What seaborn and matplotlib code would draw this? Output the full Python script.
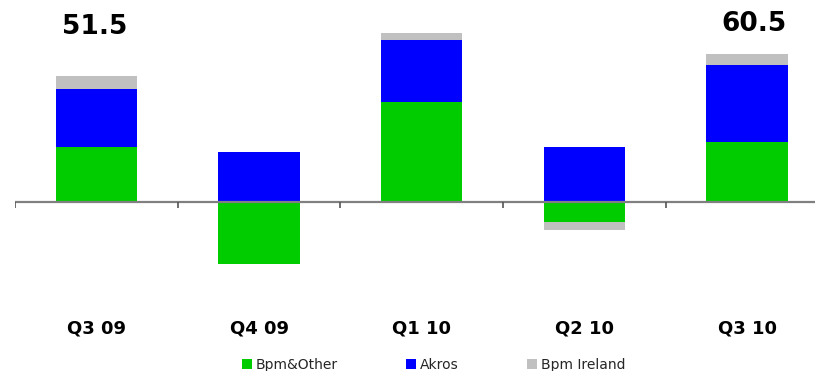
import numpy as np
import pandas as pd
import matplotlib
matplotlib.use("Agg")
import matplotlib.pyplot as plt
import seaborn as sns
from matplotlib.patches import Patch

# Quarterly contribution by business line
quarters = ["Q3 09", "Q4 09", "Q1 10", "Q2 10", "Q3 10"]
bpm_other = [22.4, -25.4, 41.0, -8.3, 24.5]
akros = [23.8, 20.2, 25.3, 22.4, 31.5]
bpm_ireland = [5.3, 0.2, 2.9, -3.3, 4.5]
labelled_quarters = ["Q3 09", "Q3 10"]

series_names = ["Bpm&Other", "Akros", "Bpm Ireland"]
series_values = [bpm_other, akros, bpm_ireland]
series_colors = ["#00CC00", "#0000FF", "#C0C0C0"]

sns.set_theme(style="white")
plt.rcParams["font.family"] = ["DejaVu Sans"]

fig = plt.figure(figsize=(8.15, 3.71), dpi=100)
ax = fig.add_axes([15 / 815, (371 - 310) / 371, 813.5 / 815, 310 / 371])

# Cumulative ends of the stacks, positives upward and negatives downward
vals = np.array(series_values, dtype=float)
pos_cum = np.cumsum(np.clip(vals, 0, None), axis=0)
neg_cum = np.cumsum(np.clip(vals, None, 0), axis=0)

# Draw from the outermost layer inwards so inner layers cover the overlap
for i in reversed(range(len(series_names))):
    for cum in (pos_cum[i], neg_cum[i]):
        df = pd.DataFrame({"quarter": quarters, "value": cum})
        sns.barplot(data=df, x="quarter", y="value", order=quarters,
                    color=series_colors[i], saturation=1, width=0.5,
                    edgecolor="none", linewidth=0, errorbar=None, ax=ax)

ax.set_xlim(-0.5, len(quarters) - 0.5)
ax.set_ylim(-44.37, 82.63)

# Baseline with category separator ticks
ax.axhline(0, color="#808080", lw=1.6, zorder=5)
bounds = np.arange(len(quarters) + 1) - 0.5
ax.vlines(bounds, -2.74, 0, color="#555555", lw=1.2, zorder=5)

for s in ax.spines.values():
    s.set_visible(False)
ax.set_yticks([])
ax.set_xlabel("")
ax.set_ylabel("")
ax.tick_params(axis="x", length=0, pad=6.5)
for lab in ax.get_xticklabels():
    lab.set_fontsize(13)
    lab.set_fontweight("bold")
    lab.set_color("black")

# Totals above selected quarters
totals = vals.sum(axis=0)
label_offsets = {"Q3 09": (-0.01, 71.4), "Q3 10": (0.04, 72.9)}
for q in labelled_quarters:
    k = quarters.index(q)
    dx, y = label_offsets[q]
    ax.text(k + dx, y, f"{totals[k]:.1f}", ha="center", va="center",
            fontsize=19, fontweight="bold", color="black")

handles = [Patch(facecolor=c, edgecolor="none") for c in series_colors]
fig.legend(handles, series_names, loc="center", bbox_to_anchor=(0.532, 6 / 371),
           ncol=3, frameon=False, fontsize=10, handlelength=0.72, handleheight=0.72,
           handletextpad=0.3, columnspacing=4.9, borderpad=0, borderaxespad=0)

fig.savefig("out.png", dpi=100)
